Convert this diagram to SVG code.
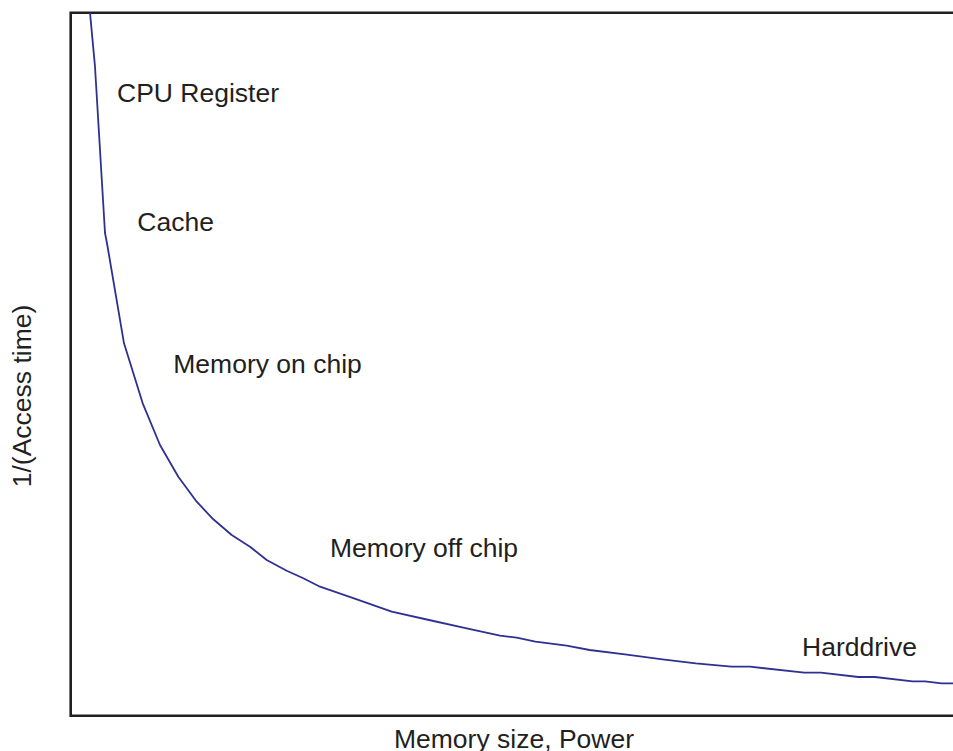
<svg xmlns="http://www.w3.org/2000/svg" width="953" height="751" viewBox="0 0 953 751">
<style>
.lbl{font-family:"Liberation Sans",Arial,sans-serif;font-size:26.5px;fill:#231f20}
.axis{fill:none;stroke:#231f20;stroke-width:2.6}
.curve{fill:none;stroke:#2e3192;stroke-width:1.8;stroke-linejoin:round}
</style>
<rect width="953" height="751" fill="#ffffff"/>
<g id="axes">
<path class="axis" d="M953,12.7 H70.7 V715.7 H953"/>
</g>
<g id="curve">
<polyline class="curve" points="90,12.7 95,66.7 100,150 105,233 107.3,245 124,343.3 142.7,403.3 160,445 178.3,476.7 196.7,501.7 213.3,519.3 231.7,535 250,546.7 266.7,560 286.7,570.7 303.3,578.3 320,586.7 354,598.3 391.7,611.7 429,620 466.7,628.3 500,635.7 516.7,637.7 535.4,641.7 566.7,645.7 589.6,650 625,654.3 662.5,659.3 695.8,663.3 731.3,666.7 750,666.7 804.2,672.7 820.8,672.7 858.3,677 875,677 912.5,681.3 925,681.3 941.7,683.3 953,683.3"/>
</g>
<g id="labels">
<text class="lbl" x="117" y="101.7">CPU Register</text>
<text class="lbl" x="137.3" y="230.7">Cache</text>
<text class="lbl" x="173.3" y="372.7">Memory on chip</text>
<text class="lbl" x="330" y="556.5">Memory off chip</text>
<text class="lbl" x="802" y="656">Harddrive</text>
<text class="lbl" x="514" y="747.5" text-anchor="middle">Memory size, Power</text>
<text class="lbl" transform="translate(31,396) rotate(-90)" text-anchor="middle">1/(Access time)</text>
</g>
</svg>
